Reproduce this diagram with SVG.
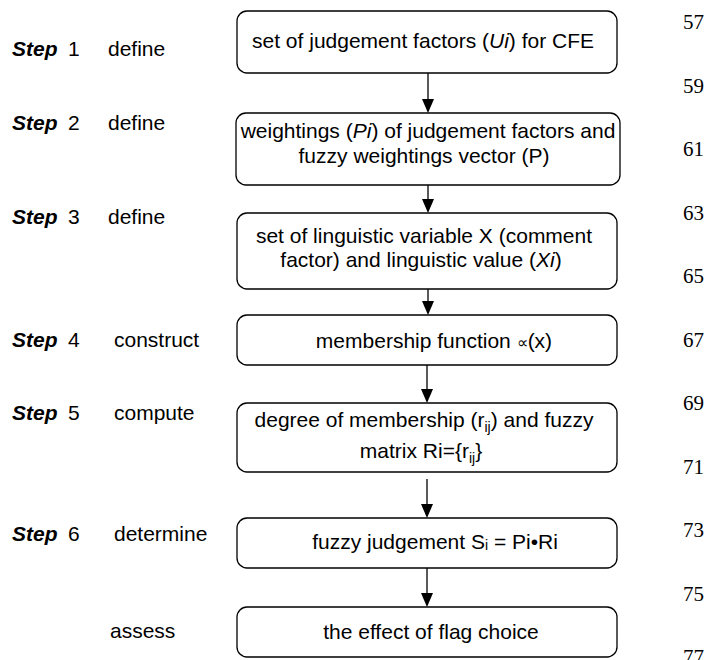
<svg xmlns="http://www.w3.org/2000/svg" width="712" height="660" viewBox="0 0 712 660">
<style>
text{font-family:"Liberation Sans",Arial,sans-serif;font-size:21px;fill:#000}
.c{text-anchor:middle}
.step{font-weight:bold;font-style:italic}
.num{font-family:"Liberation Serif","Times New Roman",serif;font-size:21px}
.box{fill:#fff;stroke:#000;stroke-width:1.3}
.conn line{stroke:#000;stroke-width:1.3;marker-end:url(#ah)}
.sub{font-size:14px}
</style>
<defs>
<marker id="ah" markerUnits="userSpaceOnUse" markerWidth="14" markerHeight="12" viewBox="0 0 14 12" refX="0" refY="6" orient="auto">
<path d="M0,0 L14,6 L0,12 z" fill="#000"/>
</marker>
</defs>
<rect width="712" height="660" fill="#fff"/>

<g id="labels">
<text class="step" x="12" y="56">Step</text><text x="68" y="56">1</text><text x="108" y="56">define</text>
<text class="step" x="12" y="130">Step</text><text x="68" y="130">2</text><text x="108" y="130">define</text>
<text class="step" x="12" y="224">Step</text><text x="68" y="224">3</text><text x="108" y="224">define</text>
<text class="step" x="12" y="347">Step</text><text x="68" y="347">4</text><text x="114" y="347">construct</text>
<text class="step" x="12" y="420">Step</text><text x="68" y="420">5</text><text x="114" y="420">compute</text>
<text class="step" x="12" y="541">Step</text><text x="68" y="541">6</text><text x="114" y="541">determine</text>
<text x="110" y="638">assess</text>
</g>

<g id="n1">
<rect class="box" x="237" y="11" width="380" height="62" rx="10"/>
<text class="c" x="423" y="48">set of judgement factors (<tspan font-style="italic">Ui</tspan>) for CFE</text>
</g>
<g id="n2">
<rect class="box" x="236" y="113" width="384" height="72" rx="10"/>
<text class="c" x="428" y="138">weightings (<tspan font-style="italic">Pi</tspan>) of judgement factors and</text>
<text class="c" x="424" y="163">fuzzy weightings vector (P)</text>
</g>
<g id="n3">
<rect class="box" x="237" y="213" width="380" height="76" rx="10"/>
<text class="c" x="424" y="243">set of linguistic variable X (comment</text>
<text class="c" x="421" y="267">factor) and linguistic value (<tspan font-style="italic">Xi</tspan>)</text>
</g>
<g id="n4">
<rect class="box" x="237" y="315" width="380" height="50" rx="10"/>
<text class="c" x="434" y="348">membership function <tspan font-size="16">∝</tspan>(x)</text>
</g>
<g id="n5">
<rect class="box" x="237" y="403" width="380" height="69" rx="10"/>
<text class="c" x="424" y="427">degree of membership (r<tspan class="sub" dy="5">ij</tspan><tspan dy="-5">) and fuzzy</tspan></text>
<text class="c" x="421" y="458">matrix Ri={r<tspan class="sub" dy="5">ij</tspan><tspan dy="-5">}</tspan></text>
</g>
<g id="n6">
<rect class="box" x="237" y="518" width="380" height="50" rx="10"/>
<text class="c" x="435" y="549">fuzzy judgement S<tspan class="sub" dy="1">i</tspan><tspan dy="-1"> = Pi•Ri</tspan></text>
</g>
<g id="n7">
<rect class="box" x="237" y="607" width="380" height="50" rx="10"/>
<text class="c" x="431" y="639">the effect of flag choice</text>
</g>

<g id="connectors" class="conn">
<line x1="428" y1="73" x2="428" y2="99"/>
<line x1="428" y1="185" x2="428" y2="199"/>
<line x1="428" y1="289" x2="428" y2="301"/>
<line x1="427" y1="365" x2="427" y2="389"/>
<line x1="427" y1="479" x2="427" y2="504"/>
<line x1="427" y1="568" x2="427" y2="593"/>
</g>

<g id="linenumbers" class="num">
<text class="num" x="683" y="29">57</text>
<text class="num" x="683" y="92.5">59</text>
<text class="num" x="683" y="156">61</text>
<text class="num" x="683" y="219.5">63</text>
<text class="num" x="683" y="283">65</text>
<text class="num" x="683" y="346.5">67</text>
<text class="num" x="683" y="410">69</text>
<text class="num" x="683" y="473.5">71</text>
<text class="num" x="683" y="537">73</text>
<text class="num" x="683" y="600.5">75</text>
<text class="num" x="683" y="664">77</text>
</g>
</svg>
